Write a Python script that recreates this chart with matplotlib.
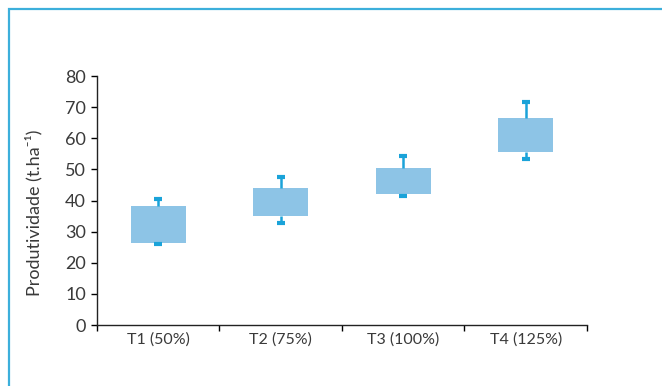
import matplotlib.pyplot as plt
from matplotlib.patches import Rectangle

# Produtividade por tratamento (t/ha)
tratamentos = ["T1 (50%)", "T2 (75%)", "T3 (100%)", "T4 (125%)"]
minimo = [26.0, 32.9, 41.3, 53.5]
q1 = [26.4, 35.1, 42.2, 55.7]
q3 = [38.3, 44.0, 50.5, 66.6]
maximo = [40.5, 47.5, 54.4, 71.8]

plt.rcParams['font.family'] = ['Lato', 'DejaVu Sans']
texto = '#3a3a3a'

fig = plt.figure(figsize=(6.62, 3.86), dpi=100)
ax = fig.add_axes([0.1465, 0.158, 0.74, 0.645])

x = range(len(tratamentos))
caixa = [b - a for a, b in zip(q1, q3)]
ax.bar(x, caixa, bottom=q1, width=0.45, color='#8dc4e6', zorder=2)

# whiskers: linha do q3 ao maximo e do minimo ao q1
ax.vlines(x, q3, maximo, color='#1aa3d9', lw=1.8, zorder=3)
ax.vlines(x, minimo, q1, color='#1aa3d9', lw=1.8, zorder=3)
ax.plot(x, maximo, ls='none', marker='_', ms=6, mew=3, color='#1aa3d9', zorder=3)
ax.plot(x, minimo, ls='none', marker='_', ms=6, mew=3, color='#1aa3d9', zorder=3)

ax.set_xlim(-0.5, len(tratamentos) - 0.5)
ax.set_ylim(0, 80)
ax.set_yticks(range(0, 81, 10))
ax.set_xticks([i - 0.5 for i in range(len(tratamentos) + 1)])
ax.set_xticklabels([])
ax.set_xticks(list(x), minor=True)
ax.set_xticklabels(tratamentos, minor=True, fontsize=11.5, color=texto)
ax.tick_params(axis='x', which='minor', length=0, pad=5)
ax.tick_params(axis='x', which='major', length=4, width=1)
ax.tick_params(axis='y', length=4, width=1, labelsize=13, labelcolor=texto, pad=4)

for s in ['top', 'right']:
    ax.spines[s].set_visible(False)
for s in ['left', 'bottom']:
    ax.spines[s].set_linewidth(1)
    ax.spines[s].set_color('#222222')

ax.set_ylabel('Produtividade (t.ha\u207b\u00b9)', fontsize=13, color=texto)
ax.yaxis.set_label_coords(-0.112, 0.45)

# moldura azul
fig.patches.append(Rectangle((8.5 / 662, -0.1), 1.2, 1 - 8.5 / 386 + 0.1,
                             transform=fig.transFigure, fill=False,
                             edgecolor='#3cafdb', lw=1.6))

fig.savefig('out.png', dpi=100)
